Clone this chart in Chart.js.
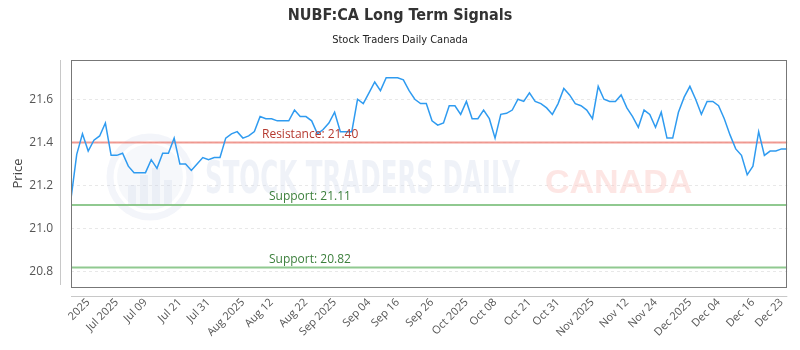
<!DOCTYPE html>
<html>
<head>
<meta charset="utf-8">
<script src="https://cdn.jsdelivr.net/npm/chart.js@4.4.1/dist/chart.umd.min.js"></script>
<style>
  html, body { margin: 0; padding: 0; background: #fff; }
</style>
</head>
<body>
<canvas id="chart" width="800" height="350"></canvas>
<script>
const prices = [
  21.14, 21.345, 21.44, 21.36, 21.41, 21.43, 21.49, 21.34, 21.34, 21.35,
  21.29, 21.26, 21.26, 21.26, 21.32, 21.28, 21.35, 21.35, 21.42, 21.30,
  21.30, 21.27, 21.30, 21.33, 21.32, 21.33, 21.33, 21.42, 21.44, 21.45,
  21.42, 21.43, 21.45, 21.52, 21.51, 21.51, 21.50, 21.50, 21.50, 21.55,
  21.52, 21.52, 21.50, 21.44, 21.46, 21.49, 21.54, 21.45, 21.45, 21.45,
  21.60, 21.58, 21.63, 21.68, 21.64, 21.70, 21.70, 21.70, 21.69, 21.64,
  21.60, 21.58, 21.58, 21.50, 21.48, 21.49, 21.57, 21.57, 21.53, 21.59,
  21.51, 21.51, 21.55, 21.51, 21.42, 21.53, 21.535, 21.55, 21.60, 21.59,
  21.63, 21.59, 21.58, 21.56, 21.53, 21.58, 21.65, 21.62, 21.58, 21.57,
  21.55, 21.51, 21.66, 21.60, 21.59, 21.59, 21.62, 21.56, 21.52, 21.47,
  21.55, 21.53, 21.47, 21.54, 21.42, 21.42, 21.54, 21.61, 21.66, 21.60,
  21.53, 21.59, 21.59, 21.57, 21.51, 21.435, 21.37, 21.34, 21.25, 21.29,
  21.45, 21.34, 21.36, 21.36, 21.37, 21.37
];
const tickIdx = [3, 8, 13, 19, 24, 30, 35, 41, 46, 52, 57, 63, 69, 74, 80, 85, 91, 97, 102, 108, 113, 119, 124];
const tickLabels = ['2025', 'Jul 2025', 'Jul 09', 'Jul 21', 'Jul 31', 'Aug 2025', 'Aug 12', 'Aug 22',
  'Sep 2025', 'Sep 04', 'Sep 16', 'Sep 26', 'Oct 2025', 'Oct 08', 'Oct 21', 'Oct 31',
  'Nov 2025', 'Nov 12', 'Nov 24', 'Dec 2025', 'Dec 04', 'Dec 16', 'Dec 23'];
const yTicks = [20.8, 21.0, 21.2, 21.4, 21.6];
const resistance = 21.40;
const supports = [21.11, 20.82];

const lastX = prices.length - 1;
const levelLine = v => [{ x: 0, y: v }, { x: lastX, y: v }];

const ctx = document.getElementById('chart').getContext('2d');

new Chart(ctx, {
  type: 'line',
  data: {
    datasets: [
      {
        data: prices.map((v, i) => ({ x: i, y: v })),
        borderColor: '#2f9bf0',
        borderWidth: 1.5,
        pointRadius: 0,
        tension: 0,
        order: 0
      },
      {
        data: levelLine(resistance),
        borderColor: 'rgba(238, 130, 120, 0.8)',
        borderWidth: 2,
        pointRadius: 0,
        order: 1
      },
      ...supports.map(s => ({
        data: levelLine(s),
        borderColor: 'rgba(125, 192, 125, 0.85)',
        borderWidth: 2,
        pointRadius: 0,
        order: 1
      }))
    ]
  },
  options: {
    responsive: false,
    animation: false,
    layout: { padding: { top: 60, right: 10, left: 0, bottom: 0 } },
    scales: {
      x: {
        type: 'linear',
        min: 0,
        max: lastX,
        grid: { display: false, drawTicks: false },
        border: { display: false },
        afterBuildTicks: s => { s.ticks = tickIdx.map(v => ({ value: v })); },
        afterFit: s => { s.height = 63; },
        ticks: {
          autoSkip: false,
          minRotation: 45,
          maxRotation: 45,
          padding: 9,
          color: '#555',
          font: { family: 'Open Sans', size: 11 },
          callback: (v, i) => tickLabels[i]
        }
      },
      y: {
        min: 20.73,
        max: 21.782,
        afterBuildTicks: s => { s.ticks = yTicks.map(v => ({ value: v })); },
        afterFit: s => { s.width = 71; },
        grid: { color: '#e8e8e8', drawTicks: false },
        border: { display: false, dash: [3, 3] },
        ticks: {
          padding: 18,
          color: '#555',
          font: { family: 'Open Sans', size: 12 },
          callback: v => v.toFixed(1)
        },
        title: {
          display: true,
          text: 'Price',
          color: '#444',
          padding: { top: 10, bottom: 0 },
          font: { family: 'Open Sans', size: 13 }
        }
      }
    },
    plugins: {
      legend: { display: false },
      tooltip: { enabled: false }
    }
  },
  plugins: [{
    id: 'decor',
    beforeDatasetsDraw(chart) {
      const c = chart.ctx;
      c.save();
      // watermark logo
      c.globalAlpha = 0.22;
      c.strokeStyle = '#c9d3e6';
      c.lineWidth = 7;
      c.beginPath();
      c.arc(150, 177, 40, 0, Math.PI * 2);
      c.stroke();
      c.fillStyle = '#d6deec';
      c.beginPath();
      c.arc(150, 177, 33, 0, Math.PI * 2);
      c.fill();
      c.fillStyle = '#c3cee3';
      [[128, 185, 8, 20], [140, 175, 8, 30], [152, 168, 8, 37], [164, 180, 8, 25]].forEach(b => c.fillRect(...b));
      c.globalAlpha = 1;
      c.textBaseline = 'alphabetic';
      c.textAlign = 'left';
      c.fillStyle = 'rgba(214, 222, 236, 0.38)';
      c.font = 'bold 44px "DejaVu Sans Condensed", "DejaVu Sans"';
      c.fillText('STOCK TRADERS DAILY', 205, 193, 315);
      c.fillStyle = 'rgba(250, 200, 196, 0.45)';
      c.font = 'bold 34px "Liberation Sans"';
      c.fillText('CANADA', 545, 193, 152);
      c.restore();
    },
    afterDraw(chart) {
      const c = chart.ctx;
      const a = chart.chartArea;
      const y = chart.scales.y;
      c.save();
      // plot frame
      c.strokeStyle = '#777';
      c.lineWidth = 1;
      c.strokeRect(Math.round(a.left) + 0.5, Math.round(a.top) + 0.5,
        Math.round(a.right - a.left) - 1, Math.round(a.bottom - a.top));
      // offset axis lines
      c.strokeStyle = '#c8c8c8';
      c.beginPath();
      c.moveTo(a.left - 10.5, a.top);
      c.lineTo(a.left - 10.5, a.bottom - 2);
      c.moveTo(a.left, a.bottom + 9.5);
      c.lineTo(a.right, a.bottom + 9.5);
      c.stroke();
      // level labels
      c.font = '12px "Open Sans"';
      c.textAlign = 'left';
      c.textBaseline = 'bottom';
      c.fillStyle = '#b5392f';
      c.fillText('Resistance: ' + resistance.toFixed(2), 262, y.getPixelForValue(resistance) - 2);
      c.fillStyle = '#3b7f3b';
      supports.forEach(s => c.fillText('Support: ' + s.toFixed(2), 269, y.getPixelForValue(s) - 2));
      // titles
      c.textAlign = 'center';
      c.textBaseline = 'middle';
      c.fillStyle = '#333';
      c.font = 'bold 16px "DejaVu Sans Condensed", "DejaVu Sans"';
      c.fillText('NUBF:CA Long Term Signals', 400, 16);
      c.fillStyle = '#222';
      c.font = '11px "DejaVu Sans Condensed", "DejaVu Sans"';
      c.fillText('Stock Traders Daily Canada', 400, 40);
      c.restore();
    }
  }]
});
</script>
</body>
</html>
